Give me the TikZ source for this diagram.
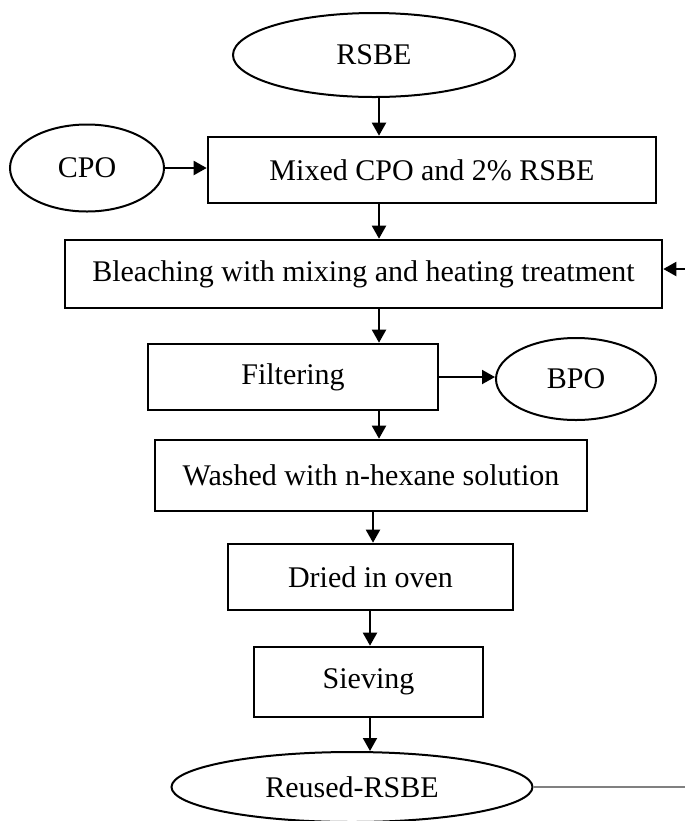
\documentclass[tikz,border=0pt]{standalone}
\usepackage{fontspec}
\setmainfont{Liberation Serif}
\usetikzlibrary{arrows.meta,shapes.geometric}

\tikzset{
  stepbox/.style={draw, rectangle, line width=1.3pt, inner sep=0pt},
  oval/.style={draw, ellipse, line width=1pt, inner sep=0pt},
  arr/.style={-{Triangle[length=6.5pt,width=7pt]}, line width=1pt},
}

\begin{document}
\begin{tikzpicture}[x=0.5pt, y=-0.5pt, font=\fontsize{15}{18}\selectfont]
            \useasboundingbox (0,0) rectangle (685,821);
            % ovals
            \node[oval, minimum width=141pt, minimum height=42pt] (rsbe) at (374,55) {RSBE};
            \node[oval, minimum width=77pt, minimum height=43.5pt] (cpo) at (87,168) {CPO};
            \node[oval, minimum width=80pt, minimum height=41pt] (bpo) at (576,379) {BPO};
            \node[oval, minimum width=180.5pt, minimum height=35pt] (reused) at (352,787) {Reused-RSBE};
            % steps
            \node[stepbox, minimum width=224pt, minimum height=33pt] (mixed) at (432,170) {Mixed CPO and 2\% RSBE};
            \node[stepbox, minimum width=298.5pt, minimum height=34pt] (bleach) at (363.5,274) {Bleaching with mixing and heating treatment};
            \node[stepbox, minimum width=145pt, minimum height=33pt] (filter) at (293,377) {Filtering};
            \node[stepbox, minimum width=216pt, minimum height=35.5pt] (wash) at (371,475.5) {Washed with n-hexane solution};
            \node[stepbox, minimum width=142.5pt, minimum height=33pt] (dry) at (370.5,577) {Dried in oven};
            \node[stepbox, minimum width=114.5pt, minimum height=35pt] (sieve) at (368.5,682) {Sieving};
            % columns and free ends
            \coordinate (k1) at (379,0);
            \coordinate (k2) at (373,0);
            \coordinate (k3) at (370,0);
            \coordinate (feed) at (685,269);
            \coordinate (out) at (685,787);
            % connectors
            \draw[arr] (rsbe.south -| k1) -- (mixed.north -| k1);
            \draw[arr] (cpo.east) -- (mixed.west |- cpo.east);
            \draw[arr] (mixed.south -| k1) -- (bleach.north -| k1);
            \draw[arr] (feed) -- (feed -| bleach.east);
            \draw[arr] (bleach.south -| k1) -- (filter.north -| k1);
            \draw[arr] (filter.east) -- (filter.east -| bpo.west);
            \draw[arr] (filter.south -| k1) -- (wash.north -| k1);
            \draw[arr] (wash.south -| k2) -- (dry.north -| k2);
            \draw[arr] (dry.south -| k3) -- (sieve.north -| k3);
            \draw[arr] (sieve.south -| k3) -- (reused.north -| k3);
            \draw[gray, line width=0.6pt] (reused.east) -- (out);
        \end{tikzpicture}
\end{document}
